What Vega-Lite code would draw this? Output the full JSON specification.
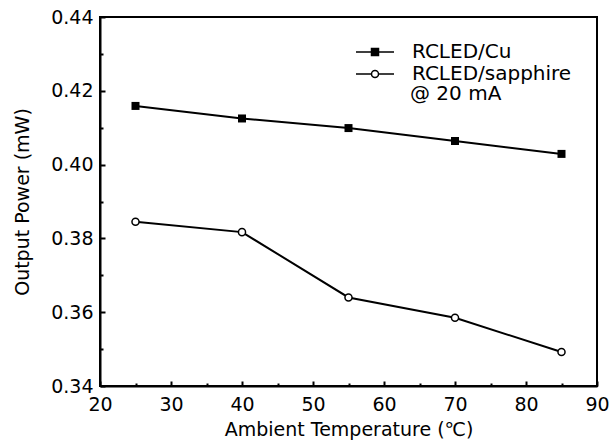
{
  "$schema": "https://vega.github.io/schema/vega-lite/v6.json",
  "width": 497,
  "height": 369,
  "autosize": {"type": "none"},
  "padding": {"left": 100, "top": 17, "right": 13, "bottom": 60},
  "background": "white",
  "config": {
    "font": "DejaVu Sans",
    "view": {"stroke": "black", "strokeWidth": 2},
    "axis": {
      "grid": false,
      "domainColor": "black",
      "domainWidth": 2,
      "labelColor": "black",
      "labelFont": "DejaVu Sans",
      "labelFontSize": 19,
      "titleFont": "DejaVu Sans",
      "titleFontSize": 19,
      "titleFontWeight": "normal",
      "titleColor": "black",
      "labelFlush": false,
      "labelOverlap": false
    },
    "legend": {
      "labelFont": "DejaVu Sans",
      "labelFontSize": 20,
      "labelColor": "black"
    }
  },
  "resolve": {"axis": {"x": "independent", "y": "independent"}},
  "data": {
    "values": [
      {"temp": 25, "power": 0.4159, "series": "RCLED/Cu"},
      {"temp": 40, "power": 0.4125, "series": "RCLED/Cu"},
      {"temp": 55, "power": 0.4099, "series": "RCLED/Cu"},
      {"temp": 70, "power": 0.4064, "series": "RCLED/Cu"},
      {"temp": 85, "power": 0.4029, "series": "RCLED/Cu"},
      {"temp": 25, "power": 0.3845, "series": "RCLED/sapphire"},
      {"temp": 40, "power": 0.3817, "series": "RCLED/sapphire"},
      {"temp": 55, "power": 0.3640, "series": "RCLED/sapphire"},
      {"temp": 70, "power": 0.3585, "series": "RCLED/sapphire"},
      {"temp": 85, "power": 0.3492, "series": "RCLED/sapphire"}
    ]
  },
  "layer": [
    {
      "mark": {"type": "line", "color": "black", "strokeWidth": 2},
      "encoding": {
        "x": {
          "field": "temp",
          "type": "quantitative",
          "scale": {"domain": [20, 90], "nice": false, "zero": false},
          "axis": {
            "orient": "bottom",
            "title": "Ambient Temperature (℃)",
            "values": [20, 30, 40, 50, 60, 70, 80, 90],
            "ticks": true,
            "tickSize": -5,
            "tickColor": "black",
            "tickWidth": 2,
            "labelPadding": 14,
            "titlePadding": 6
          }
        },
        "y": {
          "field": "power",
          "type": "quantitative",
          "scale": {"domain": [0.34, 0.44], "nice": false, "zero": false},
          "axis": {
            "orient": "left",
            "title": "Output Power (mW)",
            "values": [0.34, 0.36, 0.38, 0.40, 0.42, 0.44],
            "format": ".2f",
            "ticks": true,
            "tickSize": -5,
            "tickColor": "black",
            "tickWidth": 2,
            "labelPadding": 12,
            "titlePadding": 18
          }
        },
        "detail": {"field": "series"}
      }
    },
    {
      "mark": {"type": "point", "opacity": 0},
      "encoding": {
        "x": {
          "field": "temp",
          "type": "quantitative",
          "axis": {
            "orient": "bottom",
            "title": null,
            "values": [25, 35, 45, 55, 65, 75, 85],
            "ticks": true,
            "tickSize": -3,
            "tickColor": "black",
            "tickWidth": 2,
            "labels": false,
            "domain": false
          }
        },
        "y": {
          "field": "power",
          "type": "quantitative",
          "axis": {
            "orient": "left",
            "title": null,
            "values": [0.35, 0.37, 0.39, 0.41, 0.43],
            "ticks": true,
            "tickSize": -3,
            "tickColor": "black",
            "tickWidth": 2,
            "labels": false,
            "domain": false
          }
        }
      }
    },
    {
      "transform": [{"filter": "datum.series === 'RCLED/Cu'"}],
      "mark": {"type": "point", "shape": "square", "filled": true, "color": "black", "size": 64, "opacity": 1},
      "encoding": {
        "x": {"field": "temp", "type": "quantitative", "axis": null},
        "y": {"field": "power", "type": "quantitative", "axis": null}
      }
    },
    {
      "transform": [{"filter": "datum.series === 'RCLED/sapphire'"}],
      "mark": {"type": "point", "shape": "circle", "filled": true, "fill": "white", "stroke": "black", "strokeWidth": 1.5, "size": 50, "opacity": 1},
      "encoding": {
        "x": {"field": "temp", "type": "quantitative", "axis": null},
        "y": {"field": "power", "type": "quantitative", "axis": null}
      }
    },
    {
      "mark": {"type": "point", "opacity": 0, "stroke": "black", "strokeWidth": 1.5},
      "encoding": {
        "x": {"field": "temp", "type": "quantitative", "axis": null},
        "y": {"field": "power", "type": "quantitative", "axis": null},
        "shape": {
          "field": "series",
          "type": "nominal",
          "scale": {
            "domain": ["RCLED/Cu", "RCLED/sapphire"],
            "range": [
              "M-3.8,0H-0.7M-0.7,-0.7H0.7V0.7H-0.7ZM0.7,0H3.8",
              "M-3.8,0H-0.7M-0.7,0A0.7,0.7,0,1,1,0.7,0A0.7,0.7,0,1,1,-0.7,0ZM0.7,0H3.8"
            ]
          },
          "legend": {
            "title": null,
            "orient": "none",
            "legendX": 265,
            "legendY": 25,
            "symbolSize": 100,
            "symbolOpacity": 1,
            "labelOffset": 27,
            "rowPadding": 2,
            "encode": {
              "symbols": {
                "update": {
                  "stroke": {"value": "black"},
                  "strokeWidth": {"value": 1.5},
                  "opacity": {"value": 1}
                }
              }
            }
          }
        },
        "fill": {
          "field": "series",
          "type": "nominal",
          "scale": {"domain": ["RCLED/Cu", "RCLED/sapphire"], "range": ["black", "white"]},
          "legend": {
            "title": null,
            "orient": "none",
            "legendX": 265,
            "legendY": 25,
            "symbolSize": 100,
            "symbolOpacity": 1,
            "labelOffset": 27,
            "rowPadding": 2,
            "encode": {
              "symbols": {
                "update": {
                  "stroke": {"value": "black"},
                  "strokeWidth": {"value": 1.5},
                  "opacity": {"value": 1}
                }
              }
            }
          }
        }
      }
    },
    {
      "data": {"values": [{"t": "@ 20 mA", "tx": 63.66, "ty": 0.4191}]},
      "mark": {"type": "text", "align": "left", "baseline": "middle", "fontSize": 20, "font": "DejaVu Sans", "color": "black"},
      "encoding": {
        "x": {"field": "tx", "type": "quantitative", "axis": null},
        "y": {"field": "ty", "type": "quantitative", "axis": null},
        "text": {"field": "t"}
      }
    }
  ]
}
